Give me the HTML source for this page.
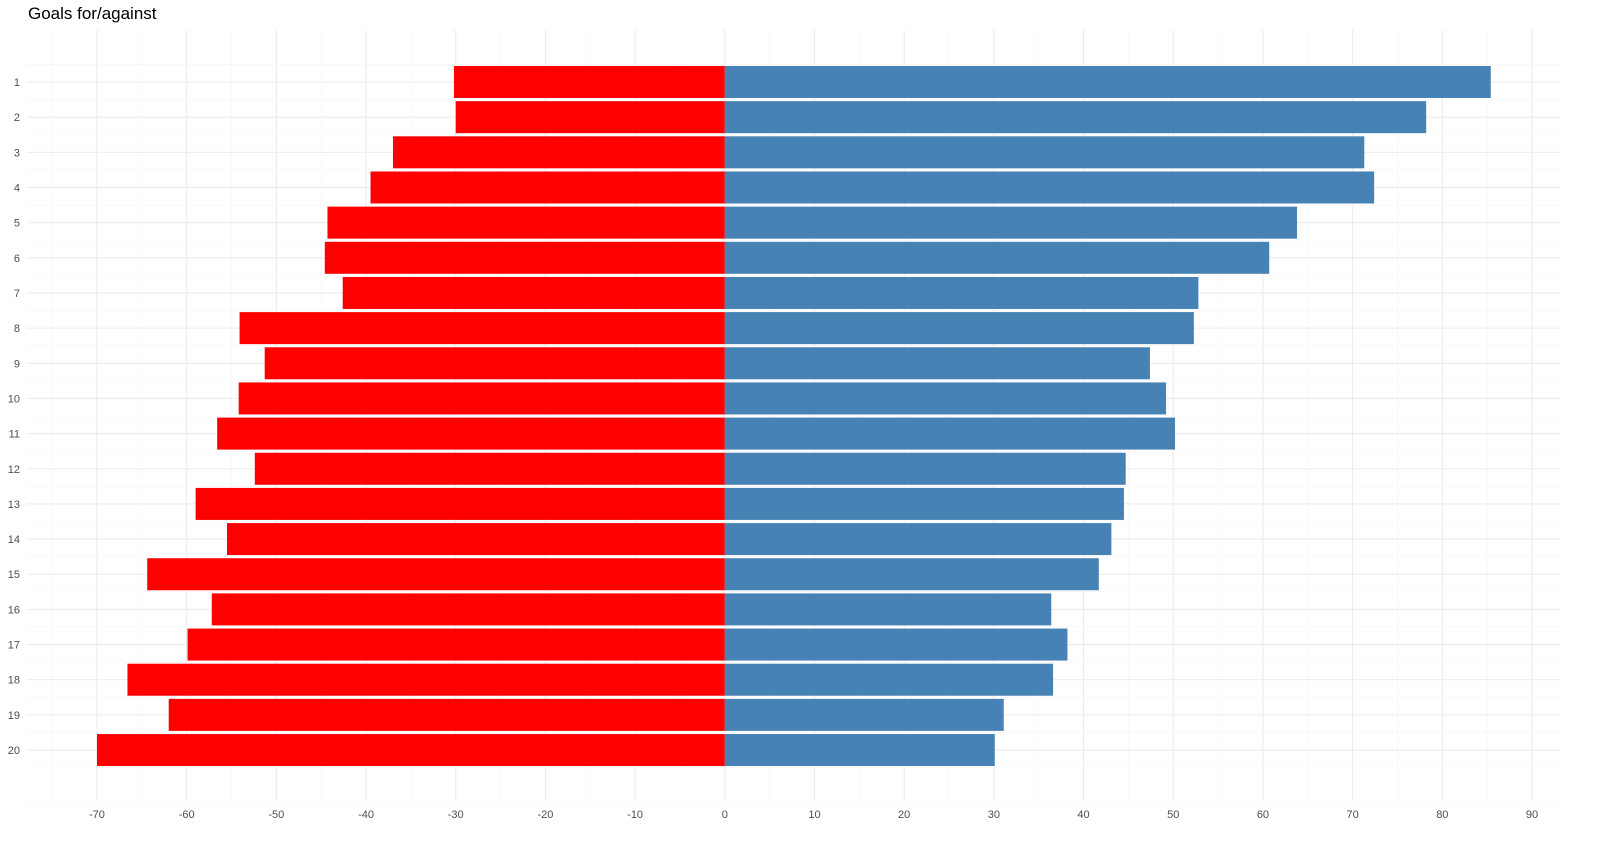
<!DOCTYPE html>
<html><head><meta charset="utf-8"><style>
html,body{margin:0;padding:0;background:#fff;font-family:"Liberation Sans",sans-serif;overflow:hidden;width:1600px;height:844px}
svg{display:block}
</style></head><body>
<svg id="chart" width="1600" height="844" xmlns="http://www.w3.org/2000/svg">
<text x="28" y="19" font-size="17" fill="#000" font-family="Liberation Sans, sans-serif">Goals for/against</text>
<g id="grid"></g><g id="bars"></g><g id="axes"></g>
</svg>
<script>
const teams = ["1","2","3","4","5","6","7","8","9","10","11","12","13","14","15","16","17","18","19","20"];
const goalsFor = [85.4,78.2,71.3,72.4,63.8,60.7,52.8,52.3,47.4,49.2,50.2,44.7,44.5,43.1,41.7,36.4,38.2,36.6,31.1,30.1];
const goalsAgainst = [-30.2,-30,-37,-39.5,-44.3,-44.6,-42.6,-54.1,-51.3,-54.2,-56.6,-52.4,-59,-55.5,-64.4,-57.2,-59.9,-66.6,-62,-70];
const xTicks = [-70,-60,-50,-40,-30,-20,-10,0,10,20,30,40,50,60,70,80,90];

const NS="http://www.w3.org/2000/svg";
const L=27,R=1560,T=30,B=800;
const x=v=>724.8+v*8.969;
const y=i=>82+i*35.16;
function mk(tag,attrs,parent){const e=document.createElementNS(NS,tag);for(const k in attrs)e.setAttribute(k,attrs[k]);document.getElementById(parent).appendChild(e);return e;}
for(let v=-75;v<=90;v+=5){
  const major=v%10===0;
  const g=mk('line',{x1:x(v),x2:x(v),y1:T,y2:B,stroke:major?'#ebebeb':'#f5f5f5','stroke-width':major?1.1:0.6},'grid');
  
  
}
for(let i=-1;i<=teams.length;i++){
  if(i>=0&&i<teams.length){
    const g=mk('line',{x1:L,x2:R,y1:y(i),y2:y(i),stroke:'#ebebeb','stroke-width':1.1},'grid');
    
    
  }
  const m=mk('line',{x1:L,x2:R,y1:y(i)+17.58,y2:y(i)+17.58,stroke:'#f5f5f5','stroke-width':0.6},'grid');
  
  
}
const h=32;
teams.forEach((t,i)=>{
  const a=mk('rect',{x:x(goalsAgainst[i]),y:y(i)-h/2,width:x(0)-x(goalsAgainst[i]),height:h,fill:'#ff0000'},'bars');
  
  
  const f=mk('rect',{x:x(0),y:y(i)-h/2,width:x(goalsFor[i])-x(0),height:h,fill:'#4682b4'},'bars');
  
  
  const l=mk('text',{x:20,y:y(i)+4,'text-anchor':'end','font-size':11,fill:'#4d4d4d'},'axes');
  l.textContent=t;
  
  
});
xTicks.forEach(v=>{
  const l=mk('text',{x:x(v),y:818,'text-anchor':'middle','font-size':11,fill:'#4d4d4d'},'axes');
  l.textContent=v;
  
  
});
</script>
</body></html>
